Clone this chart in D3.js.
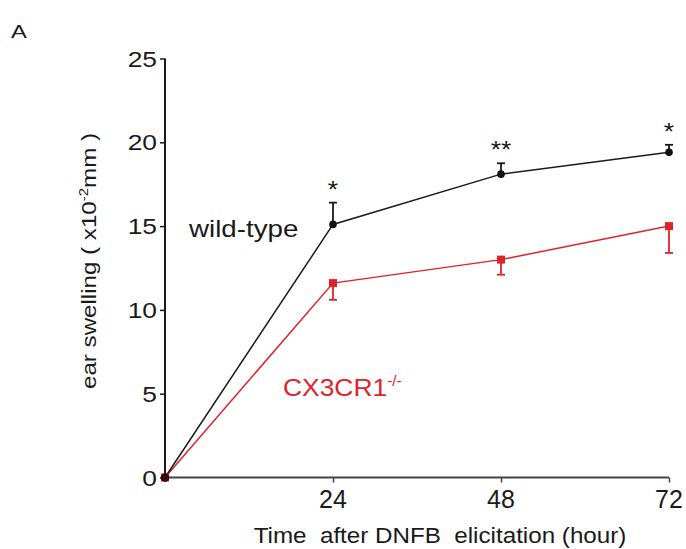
<!DOCTYPE html>
<html>
<head>
<meta charset="utf-8">
<script src="https://cdn.jsdelivr.net/npm/d3@7"></script>
<style>
  body { margin: 0; background: #fff; }
  text { font-family: Arial, "Liberation Sans", sans-serif; white-space: pre; }
</style>
</head>
<body>
<div id="chart"></div>
<script>
// Données
const hours = [0, 24, 48, 72];
const wildType = [0, 15.1, 18.1, 19.4];
const wildTypeErr = [0, 1.3, 0.65, 0.45];
const knockout = [0, 11.6, 13.0, 15.0];
const knockoutErr = [0, 1.0, 0.9, 1.6];
const stars = ["", "*", "**", "*"];
const xTicks = [24, 48, 72];
const yTicks = [0, 5, 10, 15, 20, 25];

const W = 686, H = 549;
const red = "#e0232b";

const svg = d3.select("#chart").append("svg")
  .attr("width", W)
  .attr("height", H);

// Échelles
const x = d3.scaleLinear().domain([0, 72]).range([165, 669]);
const y = d3.scaleLinear().domain([0, 25]).range([477.5, 58.5]);

// petit utilitaire : texte un peu étiré horizontalement comme sur la figure
function label(px, py, str, size, sx, anchor, rot) {
  return svg.append("text")
    .attr("transform", `translate(${px},${py})` + (rot ? ` rotate(${rot})` : "") + ` scale(${sx},1)`)
    .attr("text-anchor", anchor || "start")
    .style("font-size", size + "px")
    .attr("fill", "#1a1a1a")
    .text(str);
}

// Axe Y
const yAxis = svg.append("g")
  .attr("transform", `translate(${x(0)},0)`)
  .call(d3.axisLeft(y).tickValues(yTicks).tickSize(5).tickFormat(""));
yAxis.select(".domain").attr("stroke", "#1a1a1a").attr("stroke-width", 2).attr("d", `M0,${y(0)}V${y(25)}`);
yAxis.selectAll(".tick line").attr("stroke", "#1a1a1a").attr("stroke-width", 1.5);

yTicks.forEach(t => label(157, y(t) + 8, String(t), 22, 1.2, "end"));

// Axe X
const xAxis = svg.append("g")
  .attr("transform", `translate(0,${y(0)})`)
  .call(d3.axisBottom(x).tickValues(xTicks).tickSize(5).tickFormat(""));
xAxis.select(".domain").attr("stroke", "#444").attr("stroke-width", 2).attr("d", `M${x(0)},0H${x(72)}`);
xAxis.selectAll(".tick line").attr("stroke", "#444").attr("stroke-width", 1.5);

xTicks.forEach(t => label(x(t), 508, String(t), 25, 1, "middle"));

// Titres des axes
label(440, 543, "Time  after DNFB  elicitation (hour)", 22, 1.1, "middle");

const yt = svg.append("text")
  .attr("transform", "translate(96,261) rotate(-90) scale(1.15,1)")
  .attr("text-anchor", "middle")
  .style("font-size", "21px")
  .attr("fill", "#1a1a1a");
yt.append("tspan").text("ear swelling ( x10");
yt.append("tspan").attr("dy", -8).style("font-size", "13px").text("-2");
yt.append("tspan").attr("dy", 8).text("mm )");

// Lettre du panneau
label(11, 38, "A", 19, 1.25, "start");

// Lignes
const line = d3.line().x(d => x(d[0])).y(d => y(d[1]));
const wtPts = hours.map((h, i) => [h, wildType[i]]);
const koPts = hours.map((h, i) => [h, knockout[i]]);

svg.append("path").datum(koPts)
  .attr("d", line).attr("fill", "none").attr("stroke", red).attr("stroke-width", 1.5);
svg.append("path").datum(wtPts)
  .attr("d", line).attr("fill", "none").attr("stroke", "#1a1a1a").attr("stroke-width", 1.5);

// Barres d'erreur (vers le haut pour wild-type, vers le bas pour CX3CR1-/-)
hours.forEach((h, i) => {
  if (i === 0) return;
  const cx = x(h);
  const wt = svg.append("g").attr("stroke", "#1a1a1a").attr("stroke-width", 1.8);
  wt.append("line").attr("x1", cx).attr("x2", cx).attr("y1", y(wildType[i])).attr("y2", y(wildType[i] + wildTypeErr[i]));
  wt.append("line").attr("x1", cx - 4).attr("x2", cx + 4).attr("y1", y(wildType[i] + wildTypeErr[i])).attr("y2", y(wildType[i] + wildTypeErr[i]));

  const ko = svg.append("g").attr("stroke", red).attr("stroke-width", 1.8);
  ko.append("line").attr("x1", cx).attr("x2", cx).attr("y1", y(knockout[i])).attr("y2", y(knockout[i] - knockoutErr[i]));
  ko.append("line").attr("x1", cx - 4).attr("x2", cx + 4).attr("y1", y(knockout[i] - knockoutErr[i])).attr("y2", y(knockout[i] - knockoutErr[i]));

  // Significativité
  label(cx, y(wildType[i] + wildTypeErr[i]) - 5, stars[i], 24, 1.1, "middle");
});

// Marqueurs
svg.selectAll(".ko").data(koPts).enter().append("rect")
  .attr("x", d => x(d[0]) - 4).attr("y", d => y(d[1]) - 4)
  .attr("width", 8).attr("height", 8).attr("fill", red);
svg.selectAll(".wt").data(wtPts).enter().append("circle")
  .attr("cx", d => x(d[0])).attr("cy", d => y(d[1]))
  .attr("r", 3.8).attr("fill", "#111");
// point d'origine un peu plus sombre (superposition des deux séries)
svg.append("circle").attr("cx", x(0)).attr("cy", y(0)).attr("r", 4.3).attr("fill", "#3a0808");

// Légendes dans le graphique
label(189, 237, "wild-type", 23.5, 1.18, "start");

const ko = svg.append("text")
  .attr("transform", "translate(283,396) scale(1.1,1)")
  .style("font-size", "24px")
  .attr("fill", red);
ko.append("tspan").text("CX3CR1");
ko.append("tspan").attr("dy", -10).style("font-size", "14px").text("-/-");
</script>
</body>
</html>
